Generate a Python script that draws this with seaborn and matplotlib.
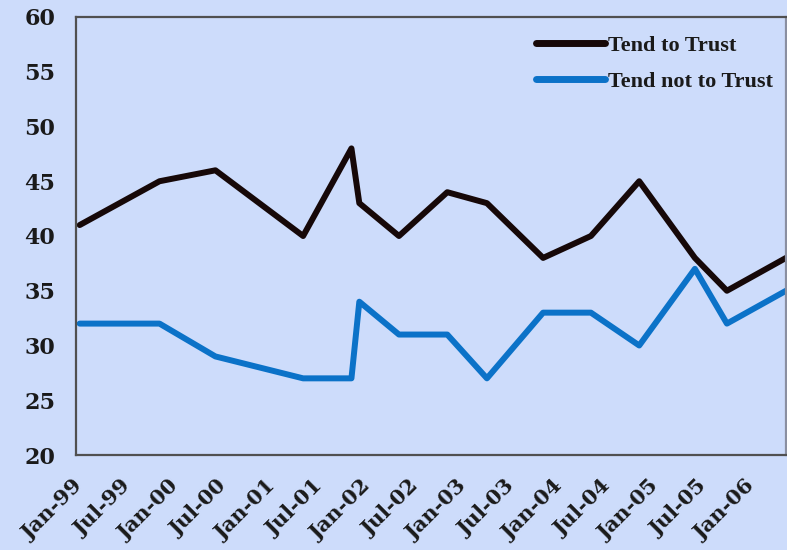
import matplotlib
matplotlib.use("Agg")
import matplotlib.pyplot as plt
import matplotlib.dates as mdates
import matplotlib.transforms as mtransforms
from matplotlib.lines import Line2D
import seaborn as sns
import pandas as pd

# ---- data ----
dates = ["1999-01-15", "1999-11-15", "2000-06-15", "2001-05-15", "2001-11-15",
         "2001-12-15", "2002-05-15", "2002-11-15", "2003-04-15", "2003-11-15",
         "2004-05-15", "2004-11-15", "2005-06-15", "2005-10-15", "2006-05-28"]
tend_to_trust = [41, 45, 46, 40, 48, 43, 40, 44, 43, 38, 40, 45, 38, 35, 38]
tend_not_to_trust = [32, 32, 29, 27, 27, 34, 31, 31, 27, 33, 33, 30, 37, 32, 35]
series_names = ["Tend to Trust", "Tend not to Trust"]
y_ticks = [20, 25, 30, 35, 40, 45, 50, 55, 60]

bg = "#cddcfb"
colors = ["#160808", "#0b72c8"]

df = pd.DataFrame({
    "date": pd.to_datetime(dates * 2),
    "value": tend_to_trust + tend_not_to_trust,
    "series": [series_names[0]] * len(dates) + [series_names[1]] * len(dates),
})

sns.set_style("white")
plt.rcParams["font.family"] = ["DejaVu Serif"]

fig = plt.figure(figsize=(7.87, 5.5), dpi=100, facecolor=bg)
ax = fig.add_axes([76 / 787, 1 - 455 / 550, (786 - 76) / 787, (455 - 17) / 550])
ax.set_facecolor(bg)

sns.lineplot(data=df, x="date", y="value", hue="series", palette=colors,
             linewidth=4.3, ax=ax, legend=False)

ax.set_ylim(20, 60)
ax.set_yticks(y_ticks)
ax.set_xlim(pd.Timestamp("1999-01-01"), pd.Timestamp(dates[-1]))
ax.xaxis.set_major_locator(mdates.MonthLocator(bymonth=[1, 7]))
ax.xaxis.set_major_formatter(mdates.DateFormatter("%b-%y"))
ax.set_xlabel("")
ax.set_ylabel("")
ax.grid(False)

for s in ["left", "bottom", "top", "right"]:
    ax.spines[s].set_visible(True)
    ax.spines[s].set_color("#505050")
    ax.spines[s].set_linewidth(1.6)
ax.spines["right"].set_color("#8a8fa0")

ax.tick_params(axis="both", direction="out", length=7, width=1.5, color="#505050")
ax.tick_params(axis="y", labelsize=16, pad=8)
ax.tick_params(axis="x", labelsize=15, pad=5)
for lab in ax.get_yticklabels():
    lab.set_fontweight("bold")
    lab.set_color("#1a1a1a")
offset = mtransforms.ScaledTranslation(4 / 100, -11 / 100, fig.dpi_scale_trans)
for lab in ax.get_xticklabels():
    lab.set_fontweight("bold")
    lab.set_color("#1a1a1a")
    lab.set_rotation(45)
    lab.set_ha("right")
    lab.set_va("center")
    lab.set_rotation_mode("anchor")
    lab.set_transform(lab.get_transform() + offset)

# legend
handles = [Line2D([0], [0], color=colors[0], linewidth=5),
           Line2D([0], [0], color=colors[1], linewidth=5)]
leg = fig.legend(handles, series_names, loc="upper left",
                 bbox_to_anchor=(536 / 787, 1 - 35 / 550),
                 frameon=False, borderpad=0, borderaxespad=0,
                 handlelength=3.1, handletextpad=0.15, labelspacing=0.72,
                 prop={"family": "Liberation Serif", "weight": "bold", "size": 16})
for t in leg.get_texts():
    t.set_color("#1a1a1a")

fig.savefig("out.png", dpi=100, facecolor=bg)
